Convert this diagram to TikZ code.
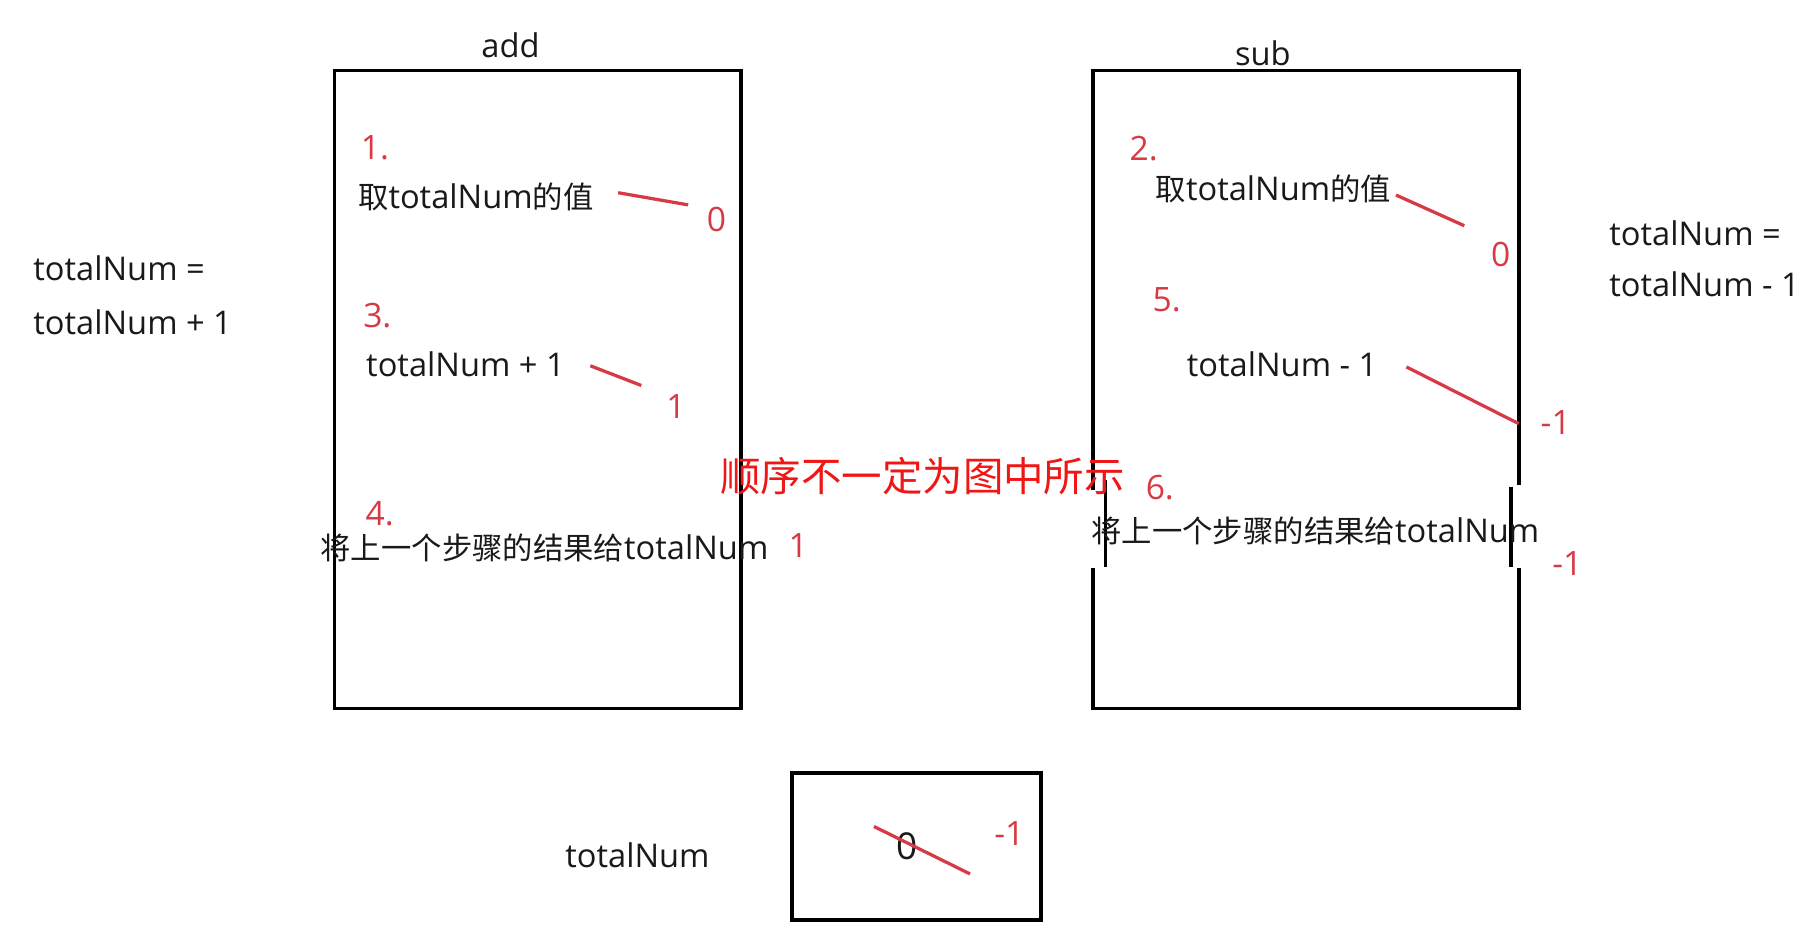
\documentclass[tikz,border=0pt]{standalone}
\usepackage{fontspec}
\setmainfont{Open Sans}
\newfontfamily\cjk[Scale=0.93]{Noto Sans CJK SC}
\newcommand{\zh}[1]{{\cjk #1}}
\definecolor{note}{RGB}{214,58,68}
\definecolor{warn}{RGB}{240,22,22}
\definecolor{ink}{RGB}{25,25,25}
\tikzset{
  txt/.style={inner sep=0pt, text=ink, font=\fontsize{14.1}{16}\selectfont},
  num/.style={inner sep=0pt, text=note, font=\fontsize{14.5}{17}\selectfont},
  warnbox/.style={inner sep=0pt, text=warn, font=\fontsize{18.8}{22}\selectfont\cjk},
  frame/.style={line width=1.6pt, draw=black},
  strike/.style={line width=1.4pt, draw=note}
}

\begin{document}
\begin{tikzpicture}[x=0.5pt,y=-0.5pt]
\useasboundingbox (0,0) rectangle (1568,811.2);

% frames
\draw[frame] (289,61) rectangle (640,612);
\draw[frame] (944,423) -- (944,61) -- (1312,61) -- (1312,419);
\draw[frame] (955,415) -- (955,490);
\draw[frame] (1305.5,420.5) -- (1305.5,490);
\draw[frame] (944,491) -- (944,612) -- (1312,612) -- (1312,491);
\draw[frame,line width=1.8pt] (684,668) rectangle (899,795);

\node[txt] (addlbl) at (441,39) {add};
\node[txt] (sublbl) at (1091,46) {sub};

\node[txt,anchor=west] (addeq1) at (28.5,232) {totalNum =};
\node[txt,anchor=west] (addeq2) at (28.5,278) {totalNum + 1};
\node[txt,anchor=west] (subeq1) at (1390,201.5) {totalNum =};
\node[txt,anchor=west] (subeq2) at (1390,246) {totalNum - 1};

% add
\node[num] (n1) at (324,128) {1.};
\node[txt,anchor=west] (a1) at (309,170) {\zh{取}totalNum\zh{的值}};
\coordinate (a1-s) at (534,166.5);
\coordinate (a1-e) at (594.5,177);
\node[num] (a1v) at (619,190) {0};
\node[num] (n3) at (326,273) {3.};
\node[txt,anchor=west] (a3) at (316,315) {totalNum + 1};
\coordinate (a3-s) at (510,316);
\coordinate (a3-e) at (554,333);
\node[num] (a3v) at (584,351) {1};
\node[num] (n4) at (328,444) {4.};
\node[txt,anchor=west] (a4) at (276.6,473) {\zh{将上一个步骤的结果给}totalNum};
\node[num] (a4v) at (689.5,471.5) {1};

% sub
\node[num] (n2) at (988,128) {2.};
\node[txt,anchor=west] (s2) at (998,163) {\zh{取}totalNum\zh{的值}};
\coordinate (s2-s) at (1206,168.5);
\coordinate (s2-e) at (1265,195);
\node[num] (s2v) at (1296.5,220) {0};
\node[num] (n5) at (1008,258.6) {5.};
\node[txt,anchor=west] (s5) at (1025,314.5) {totalNum - 1};
\coordinate (s5-s) at (1215,317);
\coordinate (s5-e) at (1312,366);
\node[num] (s5v) at (1344,365) {-1};
\node[num] (n6) at (1002,421) {6.};
\node[txt,anchor=west] (s6) at (942.6,458.5) {\zh{将上一个步骤的结果给}totalNum};
\node[num] (s6v) at (1354,486.6) {-1};

\node[warnbox] (order) at (797,411) {顺序不一定为图中所示};

% variable
\node[txt,anchor=west] (var) at (488,739) {totalNum};
\node[txt,font=\fontsize{16}{18}\selectfont] (old) at (784,731.5) {0};
\coordinate (old-s) at (755,714);
\coordinate (old-e) at (838,755);
\node[num] (new) at (872,720) {-1};

\foreach \s in {a1,a3,s2,s5,old} {
\draw[strike] (\s-s) -- (\s-e);
};
\end{tikzpicture}
\end{document}
